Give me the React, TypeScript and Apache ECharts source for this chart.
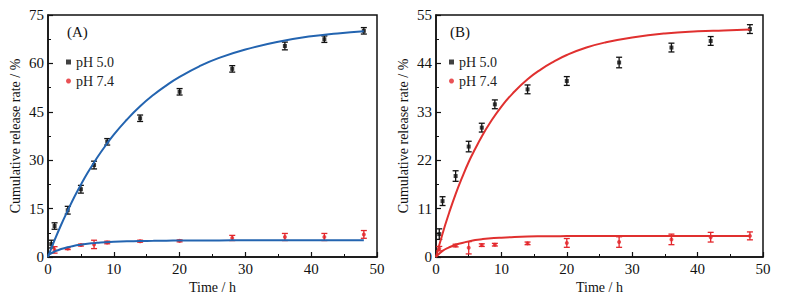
import React, { useEffect, useRef } from "react";
import * as echarts from "echarts";

// ---------- data ----------
const timesA5 = [0.5, 1, 3, 5, 7, 9, 14, 20, 28, 36, 42, 48];
const valuesA5 = [4.0, 9.6, 14.5, 21.0, 28.5, 35.7, 43.0, 51.2, 58.3, 65.4, 67.5, 70.1];
const errA5 = [1.2, 1.0, 1.2, 1.2, 1.2, 1.0, 1.0, 1.0, 1.0, 1.2, 1.0, 1.0];

const timesA74 = [1, 3, 5, 7, 9, 14, 20, 28, 36, 42, 48];
const valuesA74 = [2.2, 2.6, 3.7, 3.9, 4.5, 4.9, 5.0, 5.9, 6.2, 6.2, 7.0];
const errA74 = [1.0, 0.3, 0.3, 1.3, 0.4, 0.3, 0.3, 0.8, 1.1, 1.1, 1.2];

const timesB5 = [0.5, 1, 3, 5, 7, 9, 14, 20, 28, 36, 42, 48];
const valuesB5 = [5.2, 12.7, 18.4, 25.1, 29.4, 34.7, 38.1, 40.0, 44.2, 47.6, 49.1, 51.8];
const errB5 = [1.2, 1.0, 1.2, 1.2, 1.0, 1.0, 1.0, 1.0, 1.2, 1.0, 1.0, 1.0];

const timesB74 = [0.5, 3, 5, 7, 9, 14, 20, 28, 36, 42, 48];
const valuesB74 = [1.9, 2.6, 2.1, 2.7, 2.8, 3.1, 3.2, 3.4, 4.0, 4.5, 4.8];
const errB74 = [0.5, 0.3, 1.4, 0.3, 0.3, 0.3, 1.0, 1.2, 1.2, 1.1, 0.9];

// fitted curves
const fitTimes = [0, 1, 2, 3, 4, 5, 6, 7, 8, 10, 12, 14, 16, 18, 20, 23, 26, 30, 35, 40, 44, 48];
const fitA5 = [0, 5.2, 10.0, 14.4, 18.6, 22.4, 26.0, 29.3, 32.4, 37.9, 42.6, 46.7, 50.2, 53.2, 55.8, 59.1, 61.7, 64.3, 66.7, 68.4, 69.3, 70.0];
const fitA74 = [0.6, 1.7, 2.5, 3.0, 3.5, 3.8, 4.1, 4.3, 4.5, 4.7, 4.85, 4.95, 5.0, 5.05, 5.1, 5.12, 5.15, 5.2, 5.2, 5.2, 5.2, 5.2];
const fitB5 = [0, 5.3, 10.0, 14.3, 18.1, 21.6, 24.6, 27.4, 29.9, 34.2, 37.6, 40.4, 42.6, 44.4, 45.9, 47.6, 48.8, 49.9, 50.8, 51.3, 51.5, 51.7];
const fitB74 = [0, 1.4, 2.2, 2.8, 3.2, 3.55, 3.85, 4.05, 4.2, 4.4, 4.55, 4.65, 4.7, 4.72, 4.76, 4.78, 4.8, 4.8, 4.8, 4.8, 4.8, 4.8];

const xTicks = { min: 0, max: 50, interval: 10 };
const yTicksA = { min: 0, max: 75, interval: 15 };
const yTicksB = { min: 0, max: 55, interval: 11 };

const legendNames = ["pH 5.0", "pH 7.4"];
const panelLabels = ["(A)", "(B)"];
const xName = "Time / h";
const yName = "Cumulative release rate / %";

const FONT = "'Liberation Serif', 'Times New Roman', 'DejaVu Serif', serif";
const BLACK = "#111111";
const RED = "#e3262b";
const BLUE = "#2364b0";
const REDLINE = "#e0302f";

const zip = (xs: number[], ys: number[]) => xs.map((x, i) => [x, ys[i]]);
const zip3 = (xs: number[], ys: number[], es: number[]) => xs.map((x, i) => [x, ys[i], es[i]]);

function errorSeries(idx: number, data: number[][], color: string) {
  return {
    type: "custom",
    xAxisIndex: idx,
    yAxisIndex: idx,
    silent: true,
    encode: { x: 0, y: 1 },
    data,
    z: 3,
    renderItem: (params: any, api: any) => {
      const x = api.value(0);
      const y = api.value(1);
      const e = api.value(2);
      const hi = api.coord([x, y + e]);
      const lo = api.coord([x, y - e]);
      const w = 3;
      const st = { stroke: color, lineWidth: 1.3 };
      return {
        type: "group",
        children: [
          { type: "line", shape: { x1: hi[0], y1: hi[1], x2: lo[0], y2: lo[1] }, style: st },
          { type: "line", shape: { x1: hi[0] - w, y1: hi[1], x2: hi[0] + w, y2: hi[1] }, style: st },
          { type: "line", shape: { x1: lo[0] - w, y1: lo[1], x2: lo[0] + w, y2: lo[1] }, style: st },
        ],
      };
    },
  };
}

function makeAxes(idx: number, yt: { min: number; max: number; interval: number }) {
  const axisLine = { show: true, lineStyle: { color: BLACK, width: 1.5 } };
  const x = {
    type: "value",
    gridIndex: idx,
    ...xTicks,
    name: xName,
    nameLocation: "middle",
    nameGap: 20,
    nameTextStyle: { fontFamily: FONT, fontSize: 14, color: BLACK },
    axisLine,
    axisTick: { show: true, inside: true, length: 5, lineStyle: { color: BLACK, width: 1.2 } },
    minorTick: { show: true, splitNumber: 2, length: 3, lineStyle: { color: BLACK, width: 1 } },
    axisLabel: { fontFamily: FONT, fontSize: 15, color: BLACK, margin: 4 },
    splitLine: { show: false },
  };
  const y = {
    type: "value",
    gridIndex: idx,
    ...yt,
    name: yName,
    nameLocation: "middle",
    nameGap: 26,
    nameTextStyle: { fontFamily: FONT, fontSize: 14, color: BLACK },
    axisLine,
    axisTick: { show: true, inside: true, length: 5, lineStyle: { color: BLACK, width: 1.2 } },
    minorTick: { show: true, splitNumber: 2, length: 3, lineStyle: { color: BLACK, width: 1 } },
    axisLabel: { fontFamily: FONT, fontSize: 15, color: BLACK, margin: 4 },
    splitLine: { show: false },
  };
  return { x, y };
}

export default function App() {
  const ref = useRef<HTMLDivElement>(null);
  useEffect(() => {
    if (!ref.current) return;
    const chart = echarts.init(ref.current, undefined, { renderer: "svg" });
    const a = makeAxes(0, yTicksA);
    const b = makeAxes(1, yTicksB);
    const scatter = (idx: number, name: string, data: number[][], color: string, symbol: string) => ({
      type: "scatter",
      name,
      xAxisIndex: idx,
      yAxisIndex: idx,
      data,
      symbol,
      symbolSize: 4,
      itemStyle: { color },
      z: 4,
    });
    const fit = (idx: number, data: number[][], color: string) => ({
      type: "line",
      xAxisIndex: idx,
      yAxisIndex: idx,
      data,
      smooth: true,
      showSymbol: false,
      lineStyle: { color, width: 2 },
      z: 5,
      silent: true,
    });
    const legend = (left: number) => ({
      left,
      top: 50,
      orient: "vertical",
      itemWidth: 5,
      itemHeight: 5,
      itemGap: 5,
      textStyle: { fontFamily: FONT, fontSize: 14, color: "#222" },
      data: [
        { name: legendNames[0], icon: "rect", itemStyle: { color: BLACK } },
        { name: legendNames[1], icon: "circle", itemStyle: { color: RED } },
      ],
    });
    const titleStyle = { fontFamily: FONT, fontSize: 15, fontWeight: "normal", color: BLACK };
    chart.setOption({
      animation: false,
      backgroundColor: "#ffffff",
      textStyle: { fontFamily: FONT },
      grid: [
        { left: 48, top: 15, width: 329, height: 242, show: true, borderColor: BLACK, borderWidth: 1.5 },
        { left: 436, top: 15, width: 327, height: 242, show: true, borderColor: BLACK, borderWidth: 1.5 },
      ],
      xAxis: [a.x, b.x],
      yAxis: [a.y, b.y],
      title: [
        { text: panelLabels[0], left: 67, top: 24, padding: 0, textStyle: titleStyle },
        { text: panelLabels[1], left: 450, top: 24, padding: 0, textStyle: titleStyle },
      ],
      legend: [legend(61), legend(444)],
      series: [
        errorSeries(0, zip3(timesA5, valuesA5, errA5), BLACK),
        errorSeries(0, zip3(timesA74, valuesA74, errA74), RED),
        scatter(0, legendNames[0], zip(timesA5, valuesA5), BLACK, "rect"),
        scatter(0, legendNames[1], zip(timesA74, valuesA74), RED, "circle"),
        fit(0, zip(fitTimes, fitA5), BLUE),
        fit(0, zip(fitTimes, fitA74), BLUE),
        errorSeries(1, zip3(timesB5, valuesB5, errB5), BLACK),
        errorSeries(1, zip3(timesB74, valuesB74, errB74), RED),
        scatter(1, legendNames[0], zip(timesB5, valuesB5), BLACK, "rect"),
        scatter(1, legendNames[1], zip(timesB74, valuesB74), RED, "circle"),
        fit(1, zip(fitTimes, fitB5), REDLINE),
        fit(1, zip(fitTimes, fitB74), REDLINE),
      ],
    });
    return () => chart.dispose();
  }, []);
  return (
    <div
      ref={ref}
      style={{ position: "fixed", left: 0, top: 0, width: 785, height: 301, background: "#fff" }}
    />
  );
}
